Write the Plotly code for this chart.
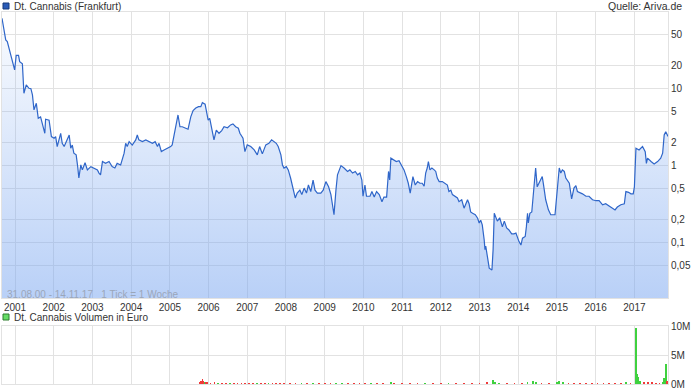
import plotly.graph_objects as go
from datetime import datetime

# ---------------- data ----------------
# price: decimal year, EUR
price_t = [2000.664, 2000.72, 2000.76, 2000.80, 2000.85, 2000.93, 2000.99, 2001.03, 2001.09, 2001.12,
           2001.19, 2001.23, 2001.29, 2001.36, 2001.41, 2001.45, 2001.49, 2001.55, 2001.60, 2001.66,
           2001.71, 2001.77, 2001.79, 2001.88, 2001.94, 2002.01, 2002.05, 2002.09, 2002.18, 2002.22,
           2002.27, 2002.40, 2002.44, 2002.48, 2002.52, 2002.58, 2002.62, 2002.65, 2002.70, 2002.74,
           2002.81, 2002.87, 2002.96, 2003.04, 2003.13, 2003.17, 2003.21, 2003.26, 2003.34, 2003.43,
           2003.51, 2003.58, 2003.64, 2003.73, 2003.79, 2003.82, 2003.86, 2003.90, 2003.95, 2004.03,
           2004.12, 2004.16, 2004.20, 2004.29, 2004.38, 2004.46, 2004.55, 2004.62, 2004.68, 2004.72,
           2004.78, 2004.85, 2004.94, 2005.02, 2005.06, 2005.13, 2005.21, 2005.26, 2005.32, 2005.41,
           2005.47, 2005.54, 2005.60, 2005.67, 2005.74, 2005.80, 2005.84, 2005.91, 2005.94, 2005.99,
           2006.03, 2006.08, 2006.14, 2006.20, 2006.27, 2006.34, 2006.40, 2006.49, 2006.57, 2006.63,
           2006.70, 2006.77, 2006.81, 2006.89, 2006.94, 2007.00, 2007.09, 2007.18, 2007.26, 2007.32,
           2007.39, 2007.48, 2007.56, 2007.63, 2007.69, 2007.75, 2007.80, 2007.87, 2007.91, 2007.95,
           2008.01, 2008.06, 2008.12, 2008.18, 2008.24, 2008.29, 2008.36, 2008.41, 2008.47, 2008.53,
           2008.58, 2008.64, 2008.70, 2008.75, 2008.81, 2008.90, 2008.96, 2009.03, 2009.10, 2009.16,
           2009.20, 2009.24, 2009.29, 2009.33, 2009.42, 2009.48, 2009.50, 2009.59, 2009.65, 2009.72,
           2009.79, 2009.85, 2009.91, 2009.96, 2009.99, 2010.04, 2010.08, 2010.17, 2010.22, 2010.28,
           2010.34, 2010.41, 2010.48, 2010.53, 2010.60, 2010.65, 2010.68, 2010.71, 2010.79, 2010.85,
           2010.92, 2010.99, 2011.05, 2011.11, 2011.16, 2011.21, 2011.25, 2011.28, 2011.34, 2011.40,
           2011.46, 2011.52, 2011.57, 2011.61, 2011.65, 2011.68, 2011.72, 2011.77, 2011.83, 2011.87,
           2011.91, 2011.96, 2012.04, 2012.11, 2012.17, 2012.21, 2012.26, 2012.30, 2012.37, 2012.43,
           2012.47, 2012.54, 2012.60, 2012.64, 2012.69, 2012.73, 2012.77, 2012.82, 2012.89, 2012.95,
           2012.99, 2013.03, 2013.07, 2013.12, 2013.14, 2013.16, 2013.20, 2013.25, 2013.32, 2013.35,
           2013.38, 2013.42, 2013.46, 2013.52, 2013.59, 2013.64, 2013.70, 2013.76, 2013.83, 2013.89,
           2013.94, 2014.02, 2014.07, 2014.11, 2014.18, 2014.21, 2014.24, 2014.26, 2014.30, 2014.35,
           2014.39, 2014.41, 2014.45, 2014.49, 2014.56, 2014.62, 2014.65, 2014.71, 2014.78, 2014.84,
           2014.95, 2015.01, 2015.06, 2015.10, 2015.14, 2015.19, 2015.23, 2015.32, 2015.38, 2015.44,
           2015.49, 2015.53, 2015.59, 2015.66, 2015.75, 2015.83, 2015.92, 2016.01, 2016.09, 2016.18,
           2016.26, 2016.35, 2016.44, 2016.50, 2016.56, 2016.65, 2016.74, 2016.78, 2016.85, 2016.91,
           2016.97, 2017.00, 2017.04, 2017.12, 2017.21, 2017.28, 2017.31, 2017.34, 2017.43, 2017.51,
           2017.60, 2017.68, 2017.73, 2017.77, 2017.81, 2017.870]
price_v = [82, 55, 43, 41, 32, 23.6, 17.5, 27, 27, 22.4,
           21, 8.7, 11.2, 10.1, 10, 8.3, 5.3, 6.45, 4.13, 4.3,
           3.38, 2.63, 4.0, 3.9, 2.38, 2.27, 2.38, 1.77, 2.63, 1.95,
           1.77, 2.5, 1.68, 1.85, 1.45, 1.38, 0.97, 0.69, 1.02, 0.88,
           1.09, 0.88, 0.97, 0.93, 0.88, 0.80, 0.76, 1.13, 1.07, 1.13,
           0.97, 0.93, 1.07, 1.02, 1.25, 1.45, 1.95, 1.77, 2.05, 1.85,
           2.16, 2.5, 2.16, 2.05, 2.16, 2.05, 1.95, 2.05, 1.77, 1.95,
           1.52, 1.6, 1.68, 1.77, 1.86, 2.9, 4.55, 3.2, 3.2, 3.06,
           2.97, 4.3, 5.18, 5.6, 5.84, 5.84, 6.58, 6.3, 5.28, 3.9,
           4.1, 3.06, 2.16, 2.9, 2.63, 2.85, 3.2, 3.1, 3.38, 3.48,
           3.2, 3.06, 2.63, 2.27, 1.52, 1.86, 1.77, 1.6, 1.38, 1.77,
           1.42, 1.86, 1.95, 2.16, 2.05, 1.95, 1.77, 1.38, 1.02, 0.93,
           0.97, 0.88, 0.69, 0.53, 0.38, 0.44, 0.48, 0.42, 0.51, 0.44,
           0.56, 0.46, 0.65, 0.48, 0.44, 0.44, 0.48, 0.62, 0.53, 0.42,
           0.31, 0.23, 0.48, 0.76, 1.0, 0.95, 0.93, 0.84, 0.88, 0.80,
           0.84, 0.76, 0.80, 0.65, 0.40, 0.56, 0.40, 0.40, 0.46, 0.39,
           0.46, 0.42, 0.34, 0.39, 0.39, 0.84, 0.65, 1.25, 1.19, 1.13,
           1.16, 1.02, 0.88, 0.72, 0.59, 0.44, 0.59, 0.72, 0.56, 0.62,
           0.59, 0.59, 0.54, 0.80, 0.93, 1.13, 0.88, 0.93, 0.88, 0.84,
           0.69, 0.62, 0.62, 0.59, 0.56, 0.46, 0.48, 0.42, 0.40, 0.38,
           0.34, 0.36, 0.28, 0.32, 0.36, 0.32, 0.25, 0.24, 0.23, 0.207,
           0.18, 0.195, 0.17, 0.108, 0.081, 0.09, 0.063, 0.0465, 0.044, 0.081,
           0.24, 0.21, 0.19, 0.21, 0.16, 0.19, 0.155, 0.146, 0.13, 0.13,
           0.133, 0.103, 0.093, 0.114, 0.12, 0.16, 0.24, 0.18, 0.24, 0.25,
           0.45, 0.48, 0.93, 0.53, 0.62, 0.72, 0.58, 0.36, 0.266, 0.23,
           0.23, 0.56, 0.93, 0.80, 0.88, 0.84, 0.69, 0.59, 0.37, 0.51,
           0.55, 0.46, 0.45, 0.43, 0.40, 0.40, 0.36, 0.35, 0.35, 0.31,
           0.32, 0.30, 0.28, 0.266, 0.29, 0.31, 0.32, 0.46, 0.45, 0.43,
           0.43, 0.53, 1.68, 1.6, 1.77, 1.52, 1.07, 1.25, 1.13, 1.05,
           1.13, 1.25, 1.45, 2.5, 2.76, 2.4]

# volume in euro: up weeks (green) and down weeks (red)
vol_up_t = [2005.88, 2006.25, 2006.55, 2007.25, 2007.55, 2008.40, 2008.70, 2009.30, 2009.45, 2010.20,
            2010.71, 2011.60, 2012.20, 2013.35, 2013.40, 2013.50, 2014.24, 2014.39, 2014.45, 2015.01,
            2015.06, 2015.15, 2016.78, 2017.04, 2017.06, 2017.10, 2017.15, 2017.73, 2017.77, 2017.81]
vol_up_v = [0.25e6, 0.12e6, 0.10e6, 0.08e6, 0.10e6, 0.06e6, 0.08e6, 0.15e6, 0.12e6, 0.05e6,
            0.35e6, 0.10e6, 0.05e6, 0.70e6, 0.30e6, 0.12e6, 0.25e6, 0.50e6, 0.30e6, 0.35e6,
            0.60e6, 0.20e6, 0.20e6, 9.6e6, 1.8e6, 1.2e6, 0.5e6, 0.3e6, 1.0e6, 3.5e6]
vol_dn_t = [2005.78, 2005.80, 2005.82, 2005.84, 2005.86, 2005.92, 2005.96, 2006.05, 2006.15, 2006.35,
            2006.45, 2006.65, 2006.75, 2006.85, 2006.95, 2007.05, 2007.15, 2007.35, 2007.45, 2007.65,
            2007.75, 2007.85, 2007.95, 2008.10, 2008.25, 2008.55, 2008.85, 2009.00, 2009.15, 2009.60,
            2009.75, 2009.90, 2010.05, 2010.35, 2010.50, 2010.80, 2011.00, 2011.20, 2011.40, 2011.80,
            2012.00, 2012.40, 2012.60, 2012.80, 2013.00, 2013.20, 2013.70, 2013.90, 2014.10, 2014.60,
            2014.80, 2015.30, 2015.45, 2015.60, 2015.75, 2015.90, 2016.05, 2016.20, 2016.35, 2016.50,
            2016.65, 2016.90, 2017.25, 2017.35, 2017.45, 2017.55, 2017.65, 2017.85]
vol_dn_v = [0.35e6, 0.6e6, 0.4e6, 0.8e6, 0.5e6, 0.2e6, 0.3e6, 0.15e6, 0.2e6, 0.1e6,
            0.12e6, 0.08e6, 0.15e6, 0.1e6, 0.12e6, 0.1e6, 0.08e6, 0.06e6, 0.08e6, 0.05e6,
            0.06e6, 0.08e6, 0.06e6, 0.08e6, 0.05e6, 0.06e6, 0.05e6, 0.05e6, 0.06e6, 0.05e6,
            0.04e6, 0.05e6, 0.06e6, 0.04e6, 0.05e6, 0.08e6, 0.05e6, 0.06e6, 0.05e6, 0.05e6,
            0.04e6, 0.05e6, 0.04e6, 0.05e6, 0.06e6, 0.2e6, 0.06e6, 0.05e6, 0.08e6, 0.15e6,
            0.1e6, 0.1e6, 0.08e6, 0.06e6, 0.05e6, 0.05e6, 0.06e6, 0.05e6, 0.04e6, 0.05e6,
            0.05e6, 0.1e6, 0.3e6, 0.4e6, 0.2e6, 0.15e6, 0.12e6, 0.5e6]

price_ticks = [0.05, 0.1, 0.2, 0.5, 1, 2, 5, 10, 20, 50]
price_tick_text = ["0,05", "0,1", "0,2", "0,5", "1", "2", "5", "10", "20", "50"]
vol_ticks = [0, 5e6, 10e6]
vol_tick_text = ["0M", "5M", "10M"]
year_ticks = list(range(2001, 2018))


def to_date(t):
    y = int(t)
    a = datetime(y, 1, 1)
    b = datetime(y + 1, 1, 1)
    return a + (b - a) * (t - y)


px_dates = [to_date(t) for t in price_t]
up_dates = [to_date(t) for t in vol_up_t]
dn_dates = [to_date(t) for t in vol_dn_t]
year_dates = [datetime(y, 1, 1) for y in year_ticks]

FONT = "Liberation Sans, Arial, sans-serif"
GRID = "#e2e2e2"
Y_LO, Y_HI = 0.019, 99.0

fig = go.Figure()
fig.add_trace(go.Scatter(
    x=px_dates, y=price_v, mode="lines",
    line=dict(color="#2f66c9", width=1.2),
    fill="tozeroy",
    fillgradient=dict(type="vertical", start=Y_LO, stop=Y_HI,
                      colorscale=[[0, "rgba(120,165,240,0.52)"],
                                  [1, "rgba(120,165,240,0.03)"]]),
    xaxis="x", yaxis="y", showlegend=False, hoverinfo="skip"))
fig.add_trace(go.Bar(x=up_dates, y=vol_up_v, marker=dict(color="#3fd13f", line_width=0),
                     width=6.0e8, xaxis="x2", yaxis="y2", showlegend=False))
fig.add_trace(go.Bar(x=dn_dates, y=vol_dn_v, marker=dict(color="#f03a3a", line_width=0),
                     width=6.0e8, xaxis="x2", yaxis="y2", showlegend=False))

W, H = 700, 392
ML, MR, MT, MB = 2, 32, 12, 8
PW, PH = W - ML - MR, H - MT - MB


def px(x):
    return (x - ML) / PW


def py(y):
    return (H - MB - y) / PH


xrange_ = [datetime(2000, 8, 31), datetime(2017, 11, 14)]
axis_common = dict(range=xrange_, type="date", tickvals=year_dates,
                   ticktext=[str(y) for y in year_ticks], showgrid=True,
                   gridcolor=GRID, gridwidth=1, zeroline=False, ticks="",
                   showline=True, mirror=True, linecolor=GRID, automargin=False)

fig.update_layout(
    width=W, height=H,
    margin=dict(l=ML, r=MR, t=MT, b=MB, autoexpand=False),
    paper_bgcolor="white", plot_bgcolor="white",
    font=dict(family=FONT, size=10, color="#333333"),
    bargap=0,
    xaxis=dict(**axis_common, anchor="y", domain=[0, 1],
               tickfont=dict(size=10, color="#333333")),
    xaxis2=dict(**axis_common, anchor="y2", domain=[0, 1], matches="x",
                showticklabels=False),
    yaxis=dict(type="log", domain=[py(298), 1], range=[-1.72, 1.996],
               side="right", tickvals=price_ticks, ticktext=price_tick_text,
               showgrid=True, gridcolor=GRID, zeroline=False, ticks="",
               showline=True, mirror=True, linecolor=GRID, automargin=False,
               tickfont=dict(size=10, color="#333333")),
    yaxis2=dict(domain=[0, py(326)], range=[0, 10e6], side="right",
                tickvals=vol_ticks, ticktext=vol_tick_text,
                showgrid=True, gridcolor=GRID, zeroline=False, ticks="",
                showline=True, mirror=True, linecolor=GRID, automargin=False,
                tickfont=dict(size=10, color="#333333")),
)

shapes = [
    dict(type="rect", xref="paper", yref="paper", x0=px(3), x1=px(9), y0=py(9), y1=py(3),
         fillcolor="#2a5cb8", line=dict(color="#173a7a", width=1)),
    dict(type="rect", xref="paper", yref="paper", x0=px(3), x1=px(9), y0=py(320), y1=py(314),
         fillcolor="#66dd66", line=dict(color="#2e7d2e", width=1)),
]
annotations = [
    dict(text="Dt. Cannabis (Frankfurt)", xref="paper", yref="paper", x=px(12), y=py(6),
         xanchor="left", yanchor="middle", showarrow=False,
         font=dict(size=10, color="#333333", family=FONT)),
    dict(text="Quelle: Ariva.de", xref="paper", yref="paper", x=px(684), y=py(6),
         xanchor="right", yanchor="middle", showarrow=False,
         font=dict(size=10.5, color="#333333", family=FONT)),
    dict(text="31.08.00 - 14.11.17   1 Tick = 1 Woche", xref="paper", yref="paper",
         x=px(5), y=py(294), xanchor="left", yanchor="middle", showarrow=False,
         font=dict(size=10, color="#9aa6ba", family=FONT)),
    dict(text="Dt. Cannabis Volumen in Euro", xref="paper", yref="paper", x=px(12), y=py(317),
         xanchor="left", yanchor="middle", showarrow=False,
         font=dict(size=10, color="#333333", family=FONT)),
]
fig.update_layout(shapes=shapes, annotations=annotations)

fig.write_html("out.html",
               config={"displayModeBar": False},
               post_script="document.body.style.margin='0';document.body.style.padding='0';")
